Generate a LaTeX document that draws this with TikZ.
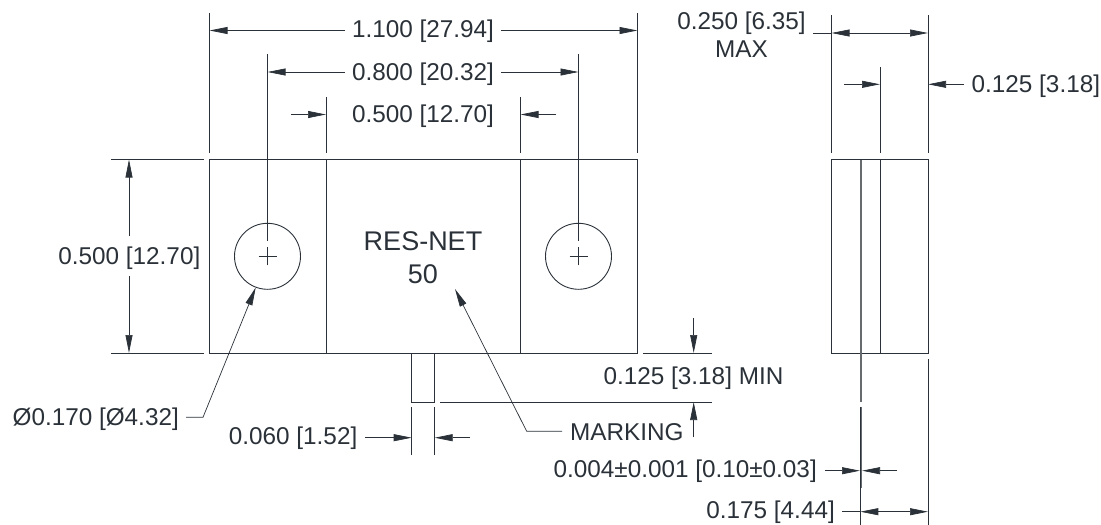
\documentclass[tikz,border=0pt]{standalone}
\usepackage{fontspec}
\setmainfont{Liberation Sans}
\usetikzlibrary{arrows.meta}
\definecolor{ink}{HTML}{2A3138}
\tikzset{
  x=1pt,y=-1pt,
  part/.style={draw=ink,line width=0.9pt},
  thin line/.style={draw=ink,line width=0.7pt},
  plate/.style={draw=ink!72,line width=2.2pt},
  dim/.style={draw=ink,line width=0.7pt,-{Triangle[length=18pt,width=7pt,fill=ink]}},
  lbl/.style={font=\fontsize{24.3}{28}\selectfont,text=ink,inner sep=0pt,anchor=base},
  lbl big/.style={lbl,font=\fontsize{27}{30}\selectfont},
}
\begin{document}
\begin{tikzpicture}
\useasboundingbox (0,0) rectangle (1101,525);
% front view
\draw[part] (209.5,159.5) rectangle (637.5,353);
\draw[part] (326,159.5) -- (326,353);
\draw[part] (520.5,159.5) -- (520.5,353);
\node[part,draw,circle,minimum size=66pt,inner sep=0pt] (holeL) at (267.5,256.3) {};
\node[part,draw,circle,minimum size=66pt,inner sep=0pt] (holeR) at (578.5,256.3) {};
\foreach \c in {holeL,holeR}{
  \draw[thin line] ([xshift=-9pt]\c.center) -- ([xshift=9pt]\c.center);
  \draw[thin line] ([yshift=-9pt]\c.center) -- ([yshift=9pt]\c.center);
}
% tab
\draw[part] (411.7,353) -- (411.7,402) -- (434.7,402) -- (434.7,353);
\draw[thin line] (411.7,407) -- (411.7,455);
\draw[thin line] (434.7,407) -- (434.7,455);
% top extension lines
\draw[thin line] (209.5,13) -- (209.5,153);
\draw[part] (637.5,13) -- (637.5,153);
\draw[thin line] (267.5,54) -- (267.5,241);
\draw[thin line] (578.5,54) -- (578.5,241);
\draw[thin line] (326,97) -- (326,153);
\draw[thin line] (520.5,97) -- (520.5,153);
% top dims
\node[lbl] (d1) at (423,37.7) {1.100 [27.94]};
\node[lbl] (d2) at (423,80.2) {0.800 [20.32]};
\node[lbl] (d3) at (423,122.2) {0.500 [12.70]};
\draw[dim] (345,30.5) -- (209.5,30.5);
\draw[dim] (501,30.5) -- (637.5,30.5);
\draw[dim] (345,72) -- (267.5,72);
\draw[dim] (501,72) -- (578.5,72);
\draw[dim] (291,114.5) -- (326,114.5);
\draw[dim] (556,114.5) -- (520.5,114.5);
% left dim
\draw[thin line] (111,159.5) -- (203.5,159.5);
\draw[thin line] (111,353) -- (203.5,353);
\node[lbl,anchor=base east] (d5) at (200.5,264.4) {0.500 [12.70]};
\draw[dim] (129,236) -- (129,159.5);
\draw[dim] (129,276) -- (129,353);
% hole leader
\node[lbl,anchor=base east] (d6) at (179,425.4) {Ø0.170 [Ø4.32]};
\coordinate (h1) at (186,417.3); \coordinate (h2) at (203,417.3);
\draw[dim] (h1) -- (h2) -- (255.7,287.5);
% marking
\node[lbl big] (rn) at (423,250) {RES-NET};
\node[lbl big] (fifty) at (423,283) {50};
\node[lbl,anchor=base west] (mk) at (570,440.7) {MARKING};
\coordinate (m1) at (562,431.3); \coordinate (m2) at (526.7,431.3);
\draw[dim] (m1) -- (m2) -- (455,289);
% 0.060
\node[lbl,anchor=base east] (d7) at (357.5,444.5) {0.060 [1.52]};
\draw[dim] (365,437.7) -- (411.7,437.7);
\draw[dim] (470,437.7) -- (434.7,437.7);
% 0.125 min
\draw[thin line] (643,353) -- (712,353);
\draw[thin line] (440,402) -- (712,402);
\node[lbl] (d8) at (693.5,384) {0.125 [3.18] MIN};
\draw[dim] (693.7,318) -- (693.7,353);
\draw[dim] (693.7,437) -- (693.7,402);
% side view
\draw[part] (831.5,159.5) rectangle (928,353);
\draw[part] (880,159.5) -- (880,353);
\draw[plate] (861.3,159.5) -- (861.3,401.7);
\draw[plate] (861.3,407) -- (861.3,488);
\draw[thin line] (831.5,15) -- (831.5,153);
\draw[thin line] (928,15) -- (928,67);
\draw[part,line width=1pt] (928,67) -- (928,153);
\draw[thin line] (880,67) -- (880,153);
\draw[part] (928,359) -- (928,525);
\draw[thin line] (860.3,407) -- (860.3,525);
\node[lbl] (d9) at (741.5,29) {0.250 [6.35]};
\node[lbl] (d10) at (741.5,57.5) {MAX};
\draw[thin line] (813,33) -- (831.5,33);
\draw[dim] (880,33) -- (831.5,33);
\draw[dim] (880,33) -- (928,33);
\draw[dim] (844,84.3) -- (880,84.3);
\draw[dim] (964,84.3) -- (928,84.3);
\node[lbl,anchor=base west] (d11) at (971.5,92) {0.125 [3.18]};
\node[lbl,anchor=base east] (d12) at (817,477.3) {0.004±0.001 [0.10±0.03]};
\draw[dim] (825,470.7) -- (860,470.7);
\draw[dim] (897,470.7) -- (862,470.7);
\node[lbl,anchor=base east] (d13) at (835,518.3) {0.175 [4.44]};
\draw[thin line] (842,511.7) -- (860.3,511.7);
\draw[dim] (895,511.7) -- (860.3,511.7);
\draw[dim] (870,511.7) -- (928,511.7);
\end{tikzpicture}
\end{document}
